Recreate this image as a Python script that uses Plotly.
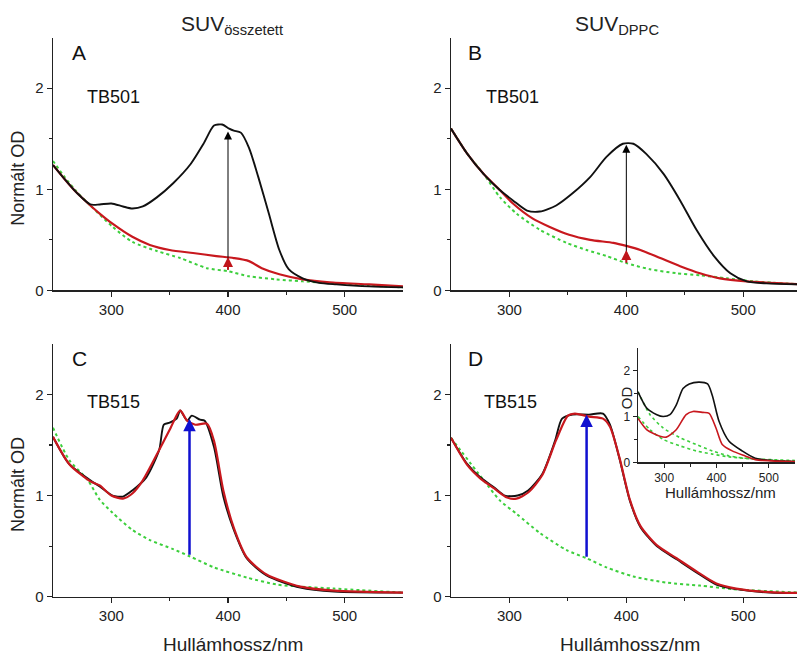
import plotly.graph_objects as go

W, H = 797, 662

# ---------------- data ----------------
A_black_wl = [250, 260, 270, 282, 290, 300, 310, 318, 327, 339, 353, 368, 379, 388, 395, 401, 405, 411, 418, 426, 435, 444, 452, 464, 478, 493, 521, 550]
A_black = [1.24, 1.10, 0.97, 0.85, 0.85, 0.86, 0.83, 0.81, 0.83, 0.92, 1.06, 1.25, 1.45, 1.63, 1.64, 1.60, 1.58, 1.56, 1.41, 1.12, 0.76, 0.40, 0.21, 0.12, 0.075, 0.06, 0.04, 0.03]
A_red_wl = [250, 260, 270, 282, 290, 301, 318, 333, 350, 370, 390, 405, 418, 429, 444, 464, 487, 521, 550]
A_red = [1.24, 1.10, 0.97, 0.84, 0.76, 0.66, 0.53, 0.45, 0.40, 0.37, 0.34, 0.32, 0.29, 0.22, 0.16, 0.11, 0.08, 0.06, 0.04]
A_green_wl = [250, 260, 270, 282, 301, 318, 339, 359, 382, 400, 418, 441, 464, 493, 521, 550]
A_green = [1.28, 1.12, 0.98, 0.84, 0.63, 0.48, 0.39, 0.32, 0.22, 0.19, 0.14, 0.11, 0.09, 0.07, 0.05, 0.03]

B_black_wl = [250, 264, 278, 292, 303, 315, 326, 340, 354, 369, 383, 397, 406, 417, 432, 446, 460, 475, 489, 503, 520, 550]
B_black = [1.60, 1.35, 1.15, 0.99, 0.89, 0.79, 0.78, 0.84, 0.96, 1.12, 1.32, 1.45, 1.45, 1.35, 1.15, 0.89, 0.60, 0.34, 0.17, 0.09, 0.07, 0.06]
B_red_wl = [250, 264, 278, 292, 303, 320, 334, 351, 369, 389, 400, 412, 429, 446, 463, 480, 503, 550]
B_red = [1.60, 1.35, 1.15, 0.99, 0.86, 0.71, 0.63, 0.55, 0.50, 0.47, 0.44, 0.40, 0.32, 0.24, 0.17, 0.12, 0.09, 0.06]
B_green_wl = [250, 264, 278, 292, 306, 326, 349, 366, 383, 400, 420, 443, 463, 486, 509, 550]
B_green = [1.60, 1.35, 1.15, 0.92, 0.76, 0.60, 0.47, 0.40, 0.34, 0.27, 0.21, 0.17, 0.15, 0.12, 0.09, 0.06]

C_black_wl = [250, 264, 282, 290, 301, 310, 318, 330, 341, 345, 350, 356, 359, 365, 369, 376, 380, 388, 396, 405, 416, 433, 462, 491, 550]
C_black = [1.58, 1.31, 1.15, 1.09, 1.00, 0.99, 1.05, 1.18, 1.45, 1.70, 1.72, 1.76, 1.84, 1.74, 1.79, 1.75, 1.74, 1.48, 0.99, 0.66, 0.38, 0.21, 0.09, 0.05, 0.04]
C_red_wl = [250, 264, 282, 290, 300, 310, 318, 327, 341, 350, 359, 365, 372, 382, 388, 396, 405, 416, 433, 462, 491, 550]
C_red = [1.58, 1.31, 1.14, 1.10, 1.00, 0.97, 1.02, 1.15, 1.45, 1.65, 1.84, 1.74, 1.70, 1.71, 1.54, 1.05, 0.68, 0.39, 0.22, 0.10, 0.06, 0.04]
C_green_wl = [250, 264, 280, 290, 301, 318, 333, 353, 367, 388, 416, 442, 462, 491, 550]
C_green = [1.67, 1.35, 1.15, 0.96, 0.83, 0.66, 0.56, 0.47, 0.40, 0.29, 0.19, 0.12, 0.10, 0.08, 0.04]

D_black_wl = [250, 264, 275, 287, 296, 307, 316, 328, 339, 345, 354, 368, 380, 386, 394, 403, 412, 426, 443, 460, 477, 494, 523, 550]
D_black = [1.57, 1.31, 1.18, 1.08, 1.00, 1.00, 1.05, 1.21, 1.54, 1.76, 1.80, 1.80, 1.81, 1.70, 1.37, 0.95, 0.69, 0.50, 0.37, 0.24, 0.12, 0.075, 0.04, 0.036]
D_red_wl = [250, 264, 275, 287, 298, 306, 316, 328, 340, 350, 356, 368, 380, 386, 394, 403, 412, 426, 443, 460, 477, 494, 523, 550]
D_red = [1.57, 1.30, 1.17, 1.07, 0.98, 0.97, 1.03, 1.20, 1.55, 1.79, 1.81, 1.78, 1.76, 1.68, 1.38, 0.96, 0.70, 0.51, 0.38, 0.25, 0.13, 0.08, 0.045, 0.036]
D_green_wl = [250, 278, 292, 306, 326, 349, 366, 383, 406, 434, 463, 491, 550]
D_green = [1.57, 1.15, 0.95, 0.82, 0.63, 0.46, 0.38, 0.29, 0.20, 0.14, 0.11, 0.075, 0.04]

I_black_wl = [250, 267, 286, 298, 311, 323, 336, 348, 367, 383, 392, 405, 424, 449, 474, 506, 550]
I_black = [1.54, 1.18, 1.04, 1.00, 1.04, 1.25, 1.61, 1.71, 1.75, 1.71, 1.46, 0.89, 0.46, 0.25, 0.09, 0.04, 0.015]
I_red_wl = [250, 267, 292, 304, 323, 342, 355, 374, 386, 399, 411, 430, 455, 474, 550]
I_red = [0.96, 0.71, 0.57, 0.55, 0.71, 1.04, 1.11, 1.09, 1.07, 0.75, 0.39, 0.25, 0.14, 0.06, 0.015]
I_green1_wl = [250, 273, 298, 330, 361, 392, 424, 455, 550]
I_green1 = [1.54, 1.04, 0.75, 0.54, 0.39, 0.25, 0.14, 0.09, 0.04]
I_green2_wl = [250, 273, 298, 330, 361, 392, 424, 487, 550]
I_green2 = [1.00, 0.71, 0.50, 0.36, 0.25, 0.18, 0.12, 0.06, 0.02]

# arrows
arrow_panel = ["A", "A", "B", "B", "C", "D"]
arrow_x = [400, 400, 400, 400, 367, 366]
arrow_y0 = [0.19, 0.19, 0.26, 0.26, 0.40, 0.38]
arrow_y1 = [1.57, 0.33, 1.44, 0.40, 1.76, 1.80]
arrow_color = ["black", "#c0151b", "black", "#c0151b", "#1010d0", "#1010d0"]
arrow_width = [1, 2, 1, 2, 2.5, 2.5]

panel_letters = ["A", "B", "C", "D"]
panel_dyes = ["TB501", "TB501", "TB515", "TB515"]
col_titles = ["SUV<sub>összetett</sub>", "SUV<sub>DPPC</sub>"]
x_ticks = [300, 400, 500]
y_ticks = [0, 1, 2]
x_title = "Hullámhossz/nm"
y_title = "Normált OD"
inset_y_title = "OD"

# ---------------- layout helpers ----------------
def px_x(p):
    return p / W

def px_y(p):
    return 1 - p / H

FONT = "Arial, Liberation Sans, sans-serif"
BLACK = "#111111"
RED = "#c8181e"
GREEN = "#3ccf3c"

# axis pixel boxes: (left, right, top, bottom)
boxes = {
    "A": (53, 403, 38, 294),
    "B": (451, 797, 38, 294),
    "C": (53, 403, 348, 604),
    "D": (451, 797, 348, 604),
    "I": (638, 795, 352, 468),
}
x_ranges = {"A": [250, 550], "B": [250, 546], "C": [250, 550], "D": [250, 546], "I": [250, 550]}
axis_ids = {"A": "", "B": "2", "C": "3", "D": "4", "I": "5"}

series = {
    "A": [(A_green_wl, A_green, "g"), (A_red_wl, A_red, "r"), (A_black_wl, A_black, "k")],
    "B": [(B_green_wl, B_green, "g"), (B_red_wl, B_red, "r"), (B_black_wl, B_black, "k")],
    "C": [(C_green_wl, C_green, "g"), (C_black_wl, C_black, "k"), (C_red_wl, C_red, "r")],
    "D": [(D_green_wl, D_green, "g"), (D_black_wl, D_black, "k"), (D_red_wl, D_red, "r")],
    "I": [(I_green1_wl, I_green1, "g"), (I_green2_wl, I_green2, "g"), (I_black_wl, I_black, "k"), (I_red_wl, I_red, "r")],
}

fig = go.Figure()
layout = dict(
    width=W, height=H, margin=dict(l=0, r=0, t=0, b=0),
    paper_bgcolor="white", plot_bgcolor="rgba(0,0,0,0)",
    showlegend=False, font=dict(family=FONT, color="#222222"),
)

for key, (l, r, t, b) in boxes.items():
    aid = axis_ids[key]
    small = key == "I"
    for wl, od, kind in series[key]:
        if kind == "g":
            line = dict(color=GREEN, width=2 if not small else 1.6, dash="dot")
        elif kind == "r":
            line = dict(color=RED, width=2.2 if not small else 1.6)
        else:
            line = dict(color=BLACK, width=1.9 if not small else 1.6)
        line["shape"] = "spline"
        line["smoothing"] = 0.7
        fig.add_trace(go.Scatter(x=wl, y=od, mode="lines", line=line,
                                 xaxis="x" + aid, yaxis="y" + aid, hoverinfo="skip"))
    common = dict(showline=True, linecolor="#222222", linewidth=1.3, ticks="outside",
                  ticklen=4 if small else 5, tickwidth=1.2, tickcolor="#222222",
                  showgrid=False, zeroline=False, fixedrange=True,
                  tickfont=dict(size=12 if small else 15, family=FONT, color="#222222"))
    layout["xaxis" + aid] = dict(common, domain=[px_x(l), px_x(r)], range=x_ranges[key],
                                 anchor="y" + aid, tickvals=x_ticks,
                                 minor=dict(ticks="outside", ticklen=3, tickvals=[350, 450], tickcolor="#222222"))
    layout["yaxis" + aid] = dict(common, domain=[px_y(b), px_y(t)], range=[0, 2.5],
                                 anchor="x" + aid, tickvals=y_ticks,
                                 minor=dict(ticks="outside", ticklen=3, tickvals=[0.5, 1.5], tickcolor="#222222"))

annotations = []
for pnl, x, y0, y1, c, w in zip(arrow_panel, arrow_x, arrow_y0, arrow_y1, arrow_color, arrow_width):
    aid = axis_ids[pnl]
    annotations.append(dict(x=x, y=y1, ax=x, ay=y0, xref="x" + aid, yref="y" + aid,
                            axref="x" + aid, ayref="y" + aid, showarrow=True, text="",
                            arrowhead=2, arrowsize=1.6 if w < 2 else 1.0, arrowwidth=w, arrowcolor=c))

letter_pos = {"A": (70, 53), "B": (466, 53), "C": (70, 363), "D": (466, 363)}
dye_pos = {"A": (85, 98), "B": (484, 98), "C": (85, 407), "D": (482, 407)}
for letter, dye in zip(panel_letters, panel_dyes):
    lx, ly = letter_pos[letter]
    annotations.append(dict(x=px_x(lx), y=px_y(ly), xref="paper", yref="paper", text=letter,
                            showarrow=False, xanchor="left", yanchor="middle",
                            font=dict(size=21, family=FONT, color="#111111")))
    dx, dy = dye_pos[letter]
    annotations.append(dict(x=px_x(dx), y=px_y(dy), xref="paper", yref="paper", text=dye,
                            showarrow=False, xanchor="left", yanchor="middle",
                            font=dict(size=18, family=FONT, color="#111111")))

for txt, cx in zip(col_titles, [232, 617]):
    annotations.append(dict(x=px_x(cx), y=px_y(25), xref="paper", yref="paper", text=txt,
                            showarrow=False, xanchor="center", yanchor="middle",
                            font=dict(size=21, family=FONT, color="#222222")))

for cy in [181, 491]:
    annotations.append(dict(x=px_x(18), y=px_y(cy), xref="paper", yref="paper", text=y_title,
                            showarrow=False, textangle=-90, xanchor="center", yanchor="middle",
                            font=dict(size=18, family=FONT, color="#222222")))
for cx in [233, 630]:
    annotations.append(dict(x=px_x(cx), y=px_y(652), xref="paper", yref="paper", text=x_title,
                            showarrow=False, xanchor="center", yanchor="middle",
                            font=dict(size=19, family=FONT, color="#222222")))
annotations.append(dict(x=px_x(720), y=px_y(499), xref="paper", yref="paper", text=x_title,
                        showarrow=False, xanchor="center", yanchor="middle",
                        font=dict(size=15, family=FONT, color="#222222")))
annotations.append(dict(x=px_x(626), y=px_y(403), xref="paper", yref="paper", text=inset_y_title,
                        showarrow=False, textangle=-90, xanchor="center", yanchor="middle",
                        font=dict(size=15, family=FONT, color="#222222")))

layout["annotations"] = annotations
fig.update_layout(**layout)
# remove the browser's default page margin so the figure fills the window exactly
fig.write_html("out.html", config={"displayModeBar": False, "staticPlot": True},
               post_script="document.body.style.margin='0px';document.body.style.overflow='hidden';")
